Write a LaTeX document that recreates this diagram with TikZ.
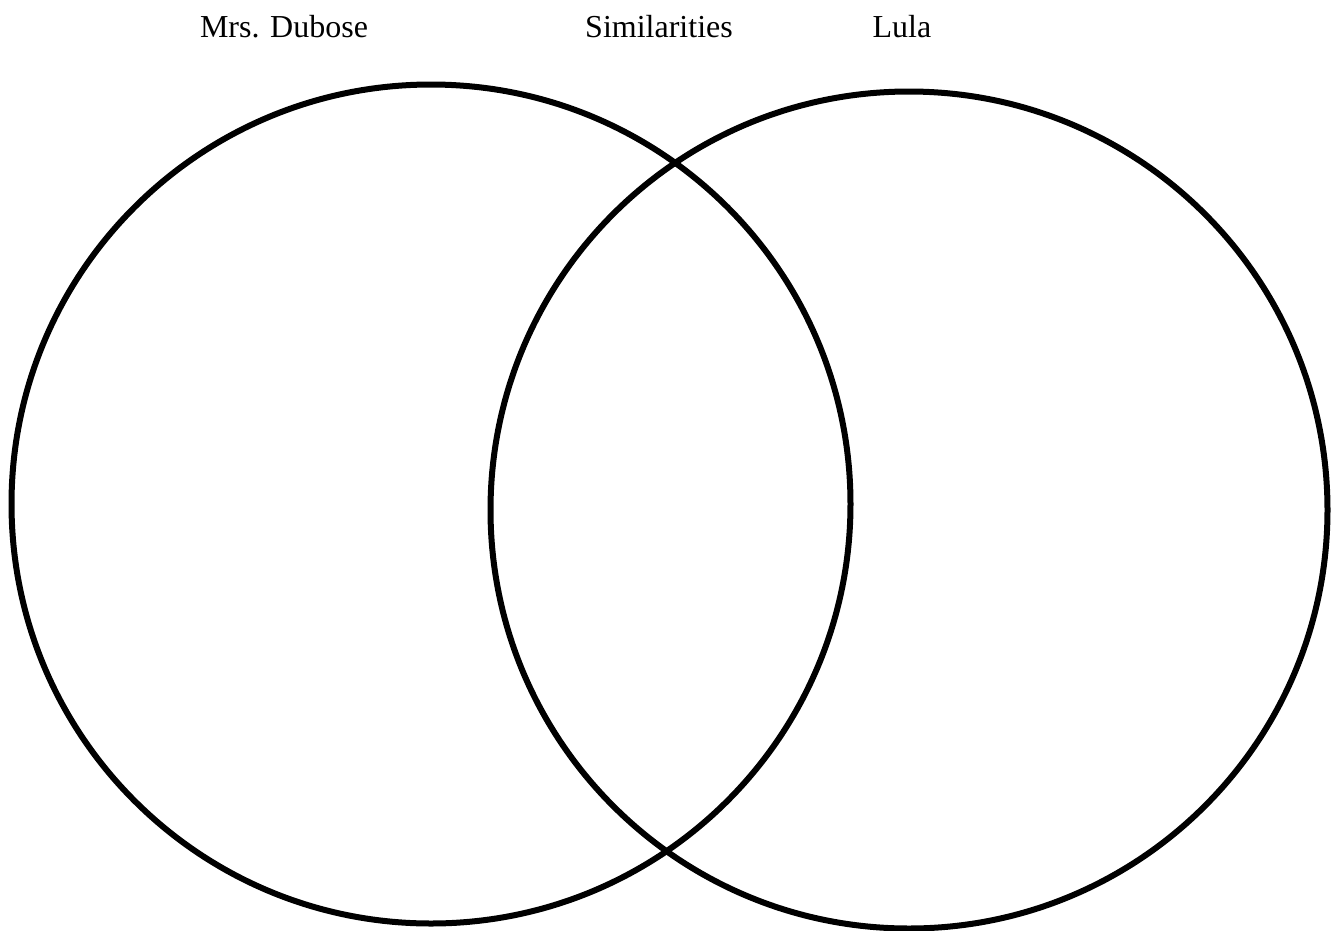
\documentclass[tikz,border=0pt]{standalone}
\usepackage{fontspec}
\setmainfont{Liberation Serif}
\begin{document}
\begin{tikzpicture}[x=1pt,y=-1pt,line join=round,line cap=round]
	\tikzset{ring/.style={circle,draw,line width=6pt,inner sep=0pt,outer sep=0pt,minimum size=#1},
		title/.style={anchor=base,inner sep=0pt,font=\fontsize{32}{36}\selectfont}}
	\useasboundingbox (0,0) rectangle (1339,930);
	\node[ring=839pt] (dubose) at (431,504) {};
	\node[ring=837pt] (lula) at (909,510) {};
	\node[title] (tdubose) at (284,37) {Mrs. Dubose};
	\node[title] (tsim) at (659,37) {Similarities};
	\node[title] (tlula) at (902,37) {Lula};
\end{tikzpicture}
\end{document}
